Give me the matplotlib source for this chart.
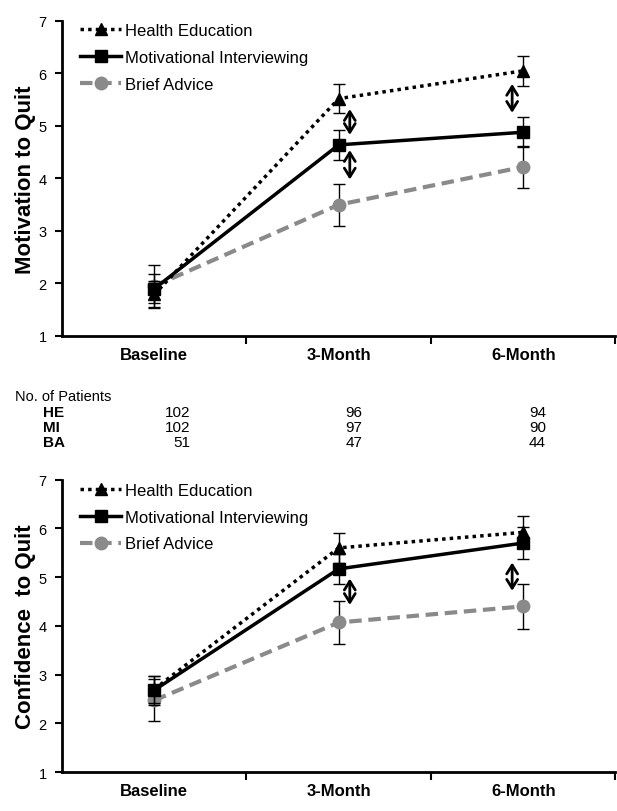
import matplotlib.pyplot as plt
from matplotlib.lines import Line2D

plt.rcParams['font.family'] = ['Liberation Sans', 'DejaVu Sans']

# Time points and groups
timepoints = ["Baseline", "3-Month", "6-Month"]
groups = ["Health Education", "Motivational Interviewing", "Brief Advice"]

# Motivation to quit (mean, error)
mot_he = [1.79, 5.52, 6.05]
mot_he_err = [0.25, 0.28, 0.29]
mot_mi = [1.90, 4.64, 4.88]
mot_mi_err = [0.28, 0.28, 0.29]
mot_ba = [1.95, 3.50, 4.22]
mot_ba_err = [0.40, 0.40, 0.40]

# Confidence to quit (mean, error)
conf_he = [2.70, 5.60, 5.92]
conf_he_err = [0.28, 0.30, 0.33]
conf_mi = [2.68, 5.17, 5.70]
conf_mi_err = [0.30, 0.31, 0.32]
conf_ba = [2.47, 4.07, 4.40]
conf_ba_err = [0.43, 0.45, 0.46]

# Significant-difference arrows: (x position, y start, y end)
mot_arrows = [(1.06, 5.32, 4.83), (1.06, 4.54, 3.98), (1.94, 5.80, 5.25)]
conf_arrows = [(1.06, 4.97, 4.43), (1.94, 5.30, 4.72)]

# Patient counts
count_rows = ["HE", "MI", "BA"]
counts_he = [102, 96, 94]
counts_mi = [102, 97, 90]
counts_ba = [51, 47, 44]

GRAY = "#8a8a8a"
STYLES = [
    dict(color="black", linestyle=(0, (1, 1.2)), linewidth=2.5, marker="^", markersize=8),
    dict(color="black", linestyle="-", linewidth=2.5, marker="s", markersize=8),
    dict(color=GRAY, linestyle=(0, (3, 1.6)), linewidth=3, marker="o", markersize=9),
]


def draw_panel(ax, he, he_err, mi, mi_err, ba, ba_err, arrows, ylabel):
    x = list(range(len(timepoints)))
    series = [(he, he_err, 4), (mi, mi_err, 3), (ba, ba_err, 2)]
    for (vals, err, z), style in zip(series, STYLES):
        ax.errorbar(x, vals, yerr=err, ecolor="black", elinewidth=1,
                    capsize=4, capthick=1, zorder=z, **style)

    for ax_x, y0, y1 in arrows:
        ax.annotate("", xy=(ax_x, y1), xytext=(ax_x, y0),
                    arrowprops=dict(arrowstyle="<->,head_length=0.45,head_width=0.28",
                                    lw=2, color="black", shrinkA=0, shrinkB=0,
                                    mutation_scale=14))

    ax.set_xlim(-0.5, 2.5)
    ax.set_ylim(1, 7)
    ax.set_yticks(range(1, 8))
    ax.tick_params(axis="y", labelsize=10.5, length=5, width=1.5, pad=6)
    ax.set_xticks([0, 1, 2])
    ax.set_xticklabels(timepoints, fontsize=12, fontweight="bold")
    ax.set_xticks([0.5, 1.5, 2.5], minor=True)
    ax.tick_params(axis="x", which="major", length=0, pad=8)
    ax.tick_params(axis="x", which="minor", length=6, width=1.5, direction="out")
    for side in ["top", "right"]:
        ax.spines[side].set_visible(False)
    for side in ["left", "bottom"]:
        ax.spines[side].set_linewidth(2)
    ax.set_ylabel(ylabel, fontsize=16, fontweight="bold", labelpad=2)

    handles = [Line2D([], [], **style) for style in STYLES]
    ax.legend(handles, groups, loc="upper left", bbox_to_anchor=(0.005, 1.04),
              frameon=False, fontsize=12, handlelength=2.5, handletextpad=0.2,
              labelspacing=0.7)


fig = plt.figure(figsize=(6.17, 8.12), dpi=100)

ax_top = fig.add_axes([0.1005, 0.585, 0.897, 0.388])
draw_panel(ax_top, mot_he, mot_he_err, mot_mi, mot_mi_err, mot_ba, mot_ba_err,
           mot_arrows, "Motivation to Quit")

ax_bot = fig.add_axes([0.1005, 0.048, 0.897, 0.36])
draw_panel(ax_bot, conf_he, conf_he_err, conf_mi, conf_mi_err, conf_ba, conf_ba_err,
           conf_arrows, "Confidence  to Quit")

# Patient counts table
fig.text(15 / 617, 1 - 397 / 812, "No. of Patients", fontsize=10.5, va="center")
col_x = [190 / 617, 362 / 617, 546 / 617]
row_y = [1 - 413 / 812, 1 - 428 / 812, 1 - 443 / 812]
for name, vals, yy in zip(count_rows, [counts_he, counts_mi, counts_ba], row_y):
    fig.text(43 / 617, yy, name, fontsize=11, fontweight="bold", va="center")
    for v, xx in zip(vals, col_x):
        fig.text(xx, yy, str(v), fontsize=11, ha="right", va="center")

fig.savefig("out.png", dpi=100)
